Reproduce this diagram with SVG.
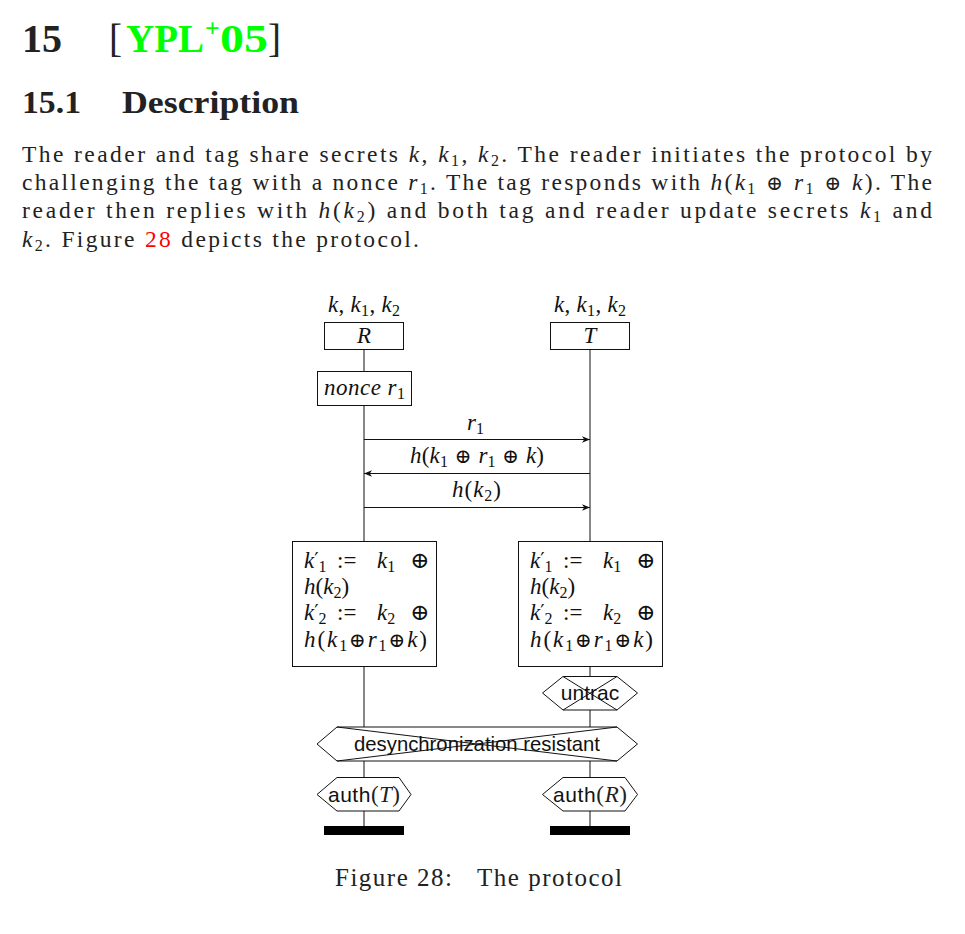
<svg xmlns="http://www.w3.org/2000/svg" width="965" height="934" viewBox="0 0 965 934">
<style>
.rm{font-family:"Liberation Serif",serif;fill:#222}
.it{font-style:italic}
.b{font-weight:bold}
.ss{font-family:"Liberation Sans",sans-serif;font-size:21px;fill:#111}
.dm{font-family:"Liberation Serif",serif;font-size:23px;font-style:italic;fill:#111}
.up{font-style:normal}
.op{font-family:"DejaVu Serif",serif;font-style:normal}
.pr{font-family:"DejaVu Sans",sans-serif;font-style:normal}
.box{fill:#fff;stroke:#111;stroke-width:1}
.ln{stroke:#111;stroke-width:1;fill:none}
.hx{fill:#fff;stroke:#111;stroke-width:1}
</style>
<defs>
<marker id="ah" markerWidth="10" markerHeight="8" refX="8" refY="4" orient="auto" markerUnits="userSpaceOnUse">
<path d="M8,4 L0,0.8 L2.2,4 L0,7.2 Z" fill="#111"/>
</marker>
</defs>
<rect width="965" height="934" fill="#fff"/>

<g id="heading">
<text class="rm b" x="22" y="52" font-size="39" textLength="40" lengthAdjust="spacingAndGlyphs">15</text>
<text class="rm" x="109" y="52" font-size="39">[</text>
<text class="rm b" x="126" y="52" font-size="39" style="fill:#00ff00" textLength="78" lengthAdjust="spacingAndGlyphs">YPL</text>
<text class="rm b" x="205" y="37" font-size="26" style="fill:#00ff00">+</text>
<text class="rm b" x="220" y="52" font-size="39" style="fill:#00ff00" textLength="48" lengthAdjust="spacingAndGlyphs">05</text>
<text class="rm" x="268" y="52" font-size="39">]</text>
<text class="rm b" x="22" y="113" font-size="32" textLength="59" lengthAdjust="spacingAndGlyphs">15.1</text>
<text class="rm b" x="122" y="113" font-size="32" textLength="177" lengthAdjust="spacingAndGlyphs">Description</text>
</g>

<g id="body" font-size="23.5">
<text class="rm" x="22" y="162" textLength="910" lengthAdjust="spacing">The reader and tag share secrets <tspan class="it">k</tspan>, <tspan class="it">k</tspan><tspan font-size="16" dy="4">1</tspan><tspan dy="-4">, </tspan><tspan class="it">k</tspan><tspan font-size="16" dy="4">2</tspan><tspan dy="-4">. The reader initiates the protocol by</tspan></text>
<text class="rm" x="22" y="190" textLength="910" lengthAdjust="spacing">challenging the tag with a nonce <tspan class="it">r</tspan><tspan font-size="16" dy="4">1</tspan><tspan dy="-4">. The tag responds with </tspan><tspan class="it">h</tspan>(<tspan class="it">k</tspan><tspan font-size="16" dy="4">1</tspan><tspan dy="-4" class="op" font-size="20"> ⊕ </tspan><tspan class="it">r</tspan><tspan font-size="16" dy="4">1</tspan><tspan dy="-4" class="op" font-size="20"> ⊕ </tspan><tspan class="it">k</tspan>). The</text>
<text class="rm" x="22" y="218" textLength="910" lengthAdjust="spacing">reader then replies with <tspan class="it">h</tspan>(<tspan class="it">k</tspan><tspan font-size="16" dy="4">2</tspan><tspan dy="-4">) and both tag and reader update secrets </tspan><tspan class="it">k</tspan><tspan font-size="16" dy="4">1</tspan><tspan dy="-4"> and</tspan></text>
<text class="rm" x="22" y="247" textLength="397" lengthAdjust="spacing"><tspan class="it">k</tspan><tspan font-size="16" dy="4">2</tspan><tspan dy="-4">. Figure </tspan><tspan style="fill:#ff0000">28</tspan> depicts the protocol.</text>
</g>

<g id="connectors">
<line class="ln" x1="364" y1="349" x2="364" y2="371"/>
<line class="ln" x1="364" y1="405" x2="364" y2="541"/>
<line class="ln" x1="364" y1="666" x2="364" y2="727"/>
<line class="ln" x1="364" y1="761" x2="364" y2="777"/>
<line class="ln" x1="364" y1="811" x2="364" y2="826"/>
<line class="ln" x1="590" y1="349" x2="590" y2="541"/>
<line class="ln" x1="590" y1="666" x2="590" y2="676"/>
<line class="ln" x1="590" y1="710" x2="590" y2="727"/>
<line class="ln" x1="590" y1="761" x2="590" y2="777"/>
<line class="ln" x1="590" y1="811" x2="590" y2="826"/>
<line class="ln" x1="364" y1="439.5" x2="590" y2="439.5" marker-end="url(#ah)"/>
<line class="ln" x1="590" y1="473.5" x2="364" y2="473.5" marker-end="url(#ah)"/>
<line class="ln" x1="364" y1="507.5" x2="590" y2="507.5" marker-end="url(#ah)"/>
<text class="dm" x="467" y="430">r<tspan class="up" font-size="16" dy="4">1</tspan></text>
<text class="dm" x="410" y="463" textLength="134" lengthAdjust="spacing">h<tspan class="up">(</tspan>k<tspan class="up" font-size="16" dy="4">1</tspan><tspan class="op" font-size="20" dy="-4"> ⊕ </tspan>r<tspan class="up" font-size="16" dy="4">1</tspan><tspan class="op" font-size="20" dy="-4"> ⊕ </tspan>k<tspan class="up">)</tspan></text>
<text class="dm" x="452" y="497" textLength="49" lengthAdjust="spacing">h<tspan class="up">(</tspan>k<tspan class="up" font-size="16" dy="4">2</tspan><tspan class="up" dy="-4">)</tspan></text>
</g>

<g id="R">
<text class="dm" x="328" y="312" textLength="72" lengthAdjust="spacing">k<tspan class="up">, </tspan>k<tspan class="up" font-size="16" dy="4">1</tspan><tspan class="up" dy="-4">, </tspan>k<tspan class="up" font-size="16" dy="4">2</tspan></text>
<rect class="box" x="324.5" y="322.5" width="79" height="27"/>
<text class="dm" x="364" y="343" text-anchor="middle">R</text>
</g>
<g id="T">
<text class="dm" x="554" y="312" textLength="72" lengthAdjust="spacing">k<tspan class="up">, </tspan>k<tspan class="up" font-size="16" dy="4">1</tspan><tspan class="up" dy="-4">, </tspan>k<tspan class="up" font-size="16" dy="4">2</tspan></text>
<rect class="box" x="550.5" y="322.5" width="79" height="27"/>
<text class="dm" x="590" y="343" text-anchor="middle">T</text>
</g>

<g id="nonce">
<rect class="box" x="317.5" y="371.5" width="94" height="34"/>
<text class="dm" x="324" y="395" textLength="81" lengthAdjust="spacing">nonce r<tspan class="up" font-size="16" dy="4">1</tspan></text>
</g>

<g id="updateR">
<rect class="box" x="292.5" y="541.5" width="144" height="125"/>
<text class="dm" x="304" y="568">k<tspan class="pr" font-size="19" dy="-2">′</tspan><tspan class="up" font-size="16" dy="6">1</tspan></text>
<text class="dm up" x="337" y="568">:=</text>
<text class="dm" x="377" y="568">k<tspan class="up" font-size="16" dy="4">1</tspan></text>
<text class="dm op" x="410" y="568" font-size="20">⊕</text>
<text class="dm" x="304" y="594">h<tspan class="up">(</tspan>k<tspan class="up" font-size="16" dy="4">2</tspan><tspan class="up" dy="-4">)</tspan></text>
<text class="dm" x="304" y="620">k<tspan class="pr" font-size="19" dy="-2">′</tspan><tspan class="up" font-size="16" dy="6">2</tspan></text>
<text class="dm up" x="337" y="620">:=</text>
<text class="dm" x="377" y="620">k<tspan class="up" font-size="16" dy="4">2</tspan></text>
<text class="dm op" x="410" y="620" font-size="20">⊕</text>
<text class="dm" x="304" y="647" textLength="123" lengthAdjust="spacing">h<tspan class="up">(</tspan>k<tspan class="up" font-size="16" dy="4">1</tspan><tspan class="op" font-size="20" dy="-4">⊕</tspan>r<tspan class="up" font-size="16" dy="4">1</tspan><tspan class="op" font-size="20" dy="-4">⊕</tspan>k<tspan class="up">)</tspan></text>
</g>

<g id="updateT">
<rect class="box" x="518.5" y="541.5" width="144" height="125"/>
<text class="dm" x="530" y="568">k<tspan class="pr" font-size="19" dy="-2">′</tspan><tspan class="up" font-size="16" dy="6">1</tspan></text>
<text class="dm up" x="563" y="568">:=</text>
<text class="dm" x="603" y="568">k<tspan class="up" font-size="16" dy="4">1</tspan></text>
<text class="dm op" x="636" y="568" font-size="20">⊕</text>
<text class="dm" x="530" y="594">h<tspan class="up">(</tspan>k<tspan class="up" font-size="16" dy="4">2</tspan><tspan class="up" dy="-4">)</tspan></text>
<text class="dm" x="530" y="620">k<tspan class="pr" font-size="19" dy="-2">′</tspan><tspan class="up" font-size="16" dy="6">2</tspan></text>
<text class="dm up" x="563" y="620">:=</text>
<text class="dm" x="603" y="620">k<tspan class="up" font-size="16" dy="4">2</tspan></text>
<text class="dm op" x="636" y="620" font-size="20">⊕</text>
<text class="dm" x="530" y="647" textLength="123" lengthAdjust="spacing">h<tspan class="up">(</tspan>k<tspan class="up" font-size="16" dy="4">1</tspan><tspan class="op" font-size="20" dy="-4">⊕</tspan>r<tspan class="up" font-size="16" dy="4">1</tspan><tspan class="op" font-size="20" dy="-4">⊕</tspan>k<tspan class="up">)</tspan></text>
</g>

<g id="untrac">
<polygon class="hx" points="542.5,693 563,676.5 617,676.5 637.5,693 617,710 563,710"/>
<line class="ln" x1="563" y1="676.5" x2="617" y2="710"/>
<line class="ln" x1="563" y1="710" x2="617" y2="676.5"/>
<text class="ss" x="590" y="700" text-anchor="middle">untrac</text>
</g>

<g id="desync">
<polygon class="hx" points="317,744 337,727 617,727 637.5,744 617,761 337,761"/>
<line class="ln" x1="337" y1="727" x2="617" y2="761"/>
<line class="ln" x1="337" y1="761" x2="617" y2="727"/>
<text class="ss" x="354" y="751" textLength="246" lengthAdjust="spacingAndGlyphs">desynchronization resistant</text>
</g>

<g id="authT">
<polygon class="hx" points="317,794.5 337,777.5 399,777.5 411,794.5 399,811 337,811"/>
<text class="ss" x="328" y="802" textLength="72" lengthAdjust="spacing">auth<tspan class="rm" font-size="23">(</tspan><tspan class="rm it" font-size="23">T</tspan><tspan class="rm" font-size="23">)</tspan></text>
</g>

<g id="authR">
<polygon class="hx" points="542.5,794.5 563,777.5 625,777.5 637.5,794.5 625,811 563,811"/>
<text class="ss" x="553" y="802" textLength="74" lengthAdjust="spacing">auth<tspan class="rm" font-size="23">(</tspan><tspan class="rm it" font-size="23">R</tspan><tspan class="rm" font-size="23">)</tspan></text>
</g>

<g id="endR"><rect x="324" y="826" width="80" height="9" fill="#000"/></g>
<g id="endT"><rect x="550" y="826" width="80" height="9" fill="#000"/></g>

<g id="caption">
<text class="rm" x="335" y="886" font-size="25" textLength="117" lengthAdjust="spacing">Figure 28:</text>
<text class="rm" x="477" y="886" font-size="25" textLength="145" lengthAdjust="spacing">The protocol</text>
</g>
</svg>
